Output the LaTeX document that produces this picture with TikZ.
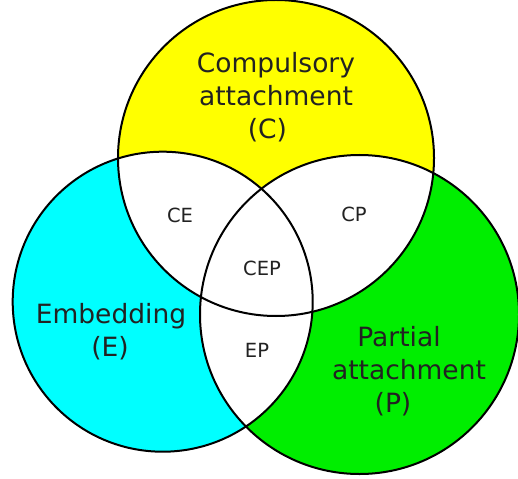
\documentclass[tikz,border=0pt]{standalone}
\usepackage{fontspec}
\setmainfont{DejaVu Sans}
\definecolor{cyellow}{HTML}{FFFF00}
\definecolor{ccyan}{HTML}{00FFFF}
\definecolor{cgreen}{HTML}{00EE00}
\definecolor{labelgray}{HTML}{222222}
\tikzset{
  outline/.style={draw=black, line width=2pt},
  biglabel/.style={align=center, text=labelgray, inner sep=0pt,
    font=\fontsize{26.5}{33}\selectfont},
  smalllabel/.style={text=labelgray, inner sep=0pt,
    font=\fontsize{19.5}{23}\selectfont},
}
\begin{document}
\begin{tikzpicture}[x=1pt, y=-1pt]
  \useasboundingbox (0,0) rectangle (518,478);
  % circle centres and radii
  \coordinate (cC) at (276,158);
  \coordinate (cE) at (162.7,301.7);
  \coordinate (cP) at (359.5,314.5);
  \def\rC{158pt}
  \def\rE{150pt}
  \def\rP{159.5pt}
  % coloured discs
  \fill[cyellow] (cC) circle[radius=\rC];
  \fill[ccyan] (cE) circle[radius=\rE];
  \fill[cgreen] (cP) circle[radius=\rP];
  % overlaps are left white
  \begin{scope}
    \clip (cC) circle[radius=\rC];
    \fill[white] (cE) circle[radius=\rE];
    \fill[white] (cP) circle[radius=\rP];
  \end{scope}
  \begin{scope}
    \clip (cE) circle[radius=\rE];
    \fill[white] (cP) circle[radius=\rP];
  \end{scope}
  % outlines
  \draw[outline] (cC) circle[radius=\rC];
  \draw[outline] (cE) circle[radius=\rE];
  \draw[outline] (cP) circle[radius=\rP];
  % set labels (kerns nudge single lines sideways)
  \node[biglabel] (labC) at (276,97) {Compulsory\\attachment\\(C)\kern17pt};
  \node[biglabel] (labE) at (111,331.7) {Embedding\\(E)\kern2pt};
  \node[biglabel] (labP) at (402,371.4) {Partial\kern6pt\\\kern14pt attachment\\(P)\kern18pt};
  % overlap labels
  \node[smalllabel] (labCE) at (180,215.5) {CE};
  \node[smalllabel] (labCP) at (354,214) {CP};
  \node[smalllabel] (labCEP) at (262,268) {CEP};
  \node[smalllabel] (labEP) at (257,350) {EP};
\end{tikzpicture}
\end{document}
